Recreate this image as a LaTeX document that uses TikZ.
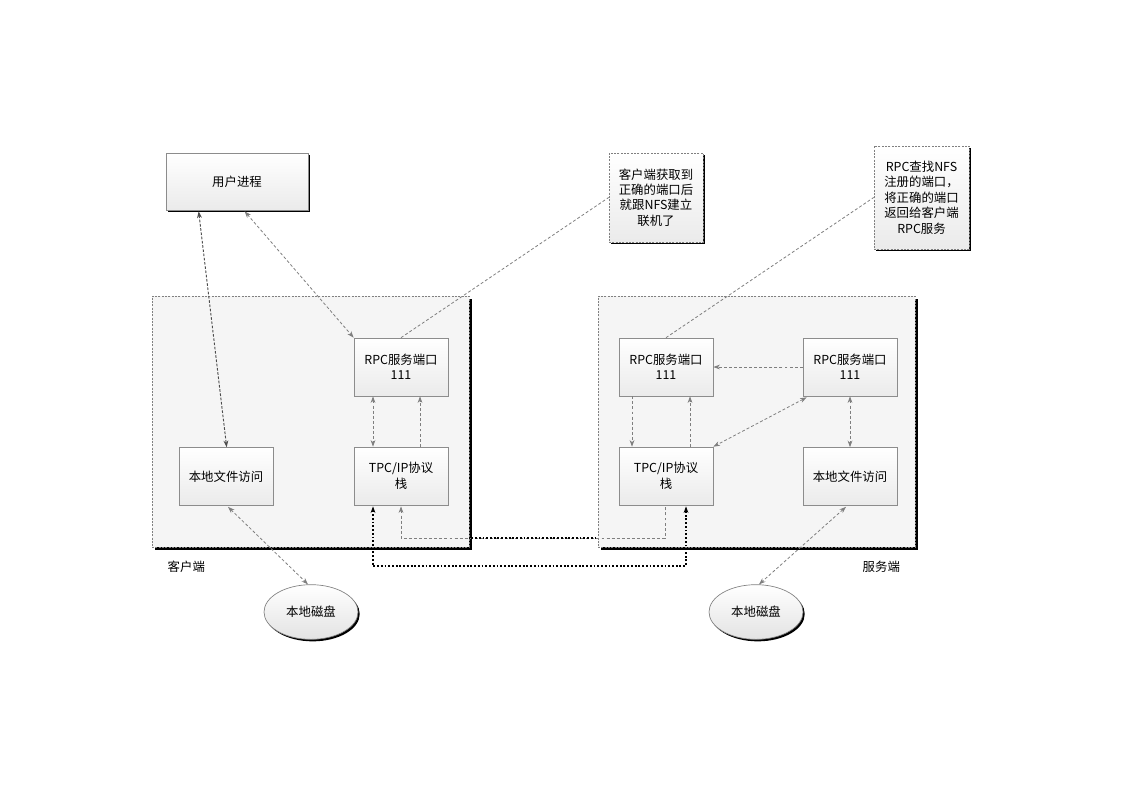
\documentclass[tikz,border=0pt]{standalone}
\usepackage{fontspec}
\setmainfont{Noto Sans CJK SC}
\usetikzlibrary{shapes.geometric,shadows,calc,arrows.meta}
\definecolor{lc}{HTML}{7F7F7F}
\definecolor{bc}{HTML}{8C8C8C}
\tikzset{
  txt/.style={font=\fontsize{9.3pt}{11.6pt}\selectfont, align=center, text=black},
  shad/.style={drop shadow={shadow xshift=1.6pt, shadow yshift=-1.6pt, opacity=1, fill=black}},
  box/.style={txt, draw=bc, line width=0.5pt, rectangle, top color=white, bottom color=gray!16,
     minimum width=70.5pt, minimum height=43.5pt, inner sep=1pt},
  bigbox/.style={box, shad, minimum width=106.5pt, minimum height=42.75pt},
  notebox/.style={box, shad, dash pattern=on 1.5pt off 1pt, draw=gray},
  cont/.style={draw=gray, line width=0.5pt, dash pattern=on 1.5pt off 1pt, fill=gray!8,
     drop shadow={shadow xshift=2pt, shadow yshift=-2pt, opacity=1, fill=black}, inner sep=0pt},
  disk/.style={txt, ellipse, draw=gray, line width=0.5pt, top color=white, bottom color=gray!22,
     minimum width=70.5pt, minimum height=41pt, inner sep=0pt,
     drop shadow={shadow xshift=1.3pt, shadow yshift=-1.5pt, opacity=1, fill=black}},
  conn/.style={draw=lc, line width=0.6pt, dash pattern=on 2.2pt off 1.6pt},
  dconn/.style={draw=black!70, line width=0.7pt, dash pattern=on 2pt off 1.2pt},
  bconn/.style={draw=black, line width=1.1pt, dash pattern=on 1.4pt off 1.4pt},
  >={Stealth[length=5pt,width=3.6pt,fill=lc]},
}
\begin{document}
\begin{tikzpicture}[x=0.75pt,y=-0.75pt]
\useasboundingbox (0,0) rectangle (1123,794);

% containers
\node[cont, minimum width=237.75pt, minimum height=188.25pt] (lcont) at (310.5,421.5) {};
\node[cont, minimum width=237.75pt, minimum height=188.25pt] (rcont) at (756.5,421.5) {};
\node[txt, anchor=west] (lcl) at (163,567) {客户端};
\node[txt, anchor=west] (lcs) at (858,567) {服务端};

% top
\node[bigbox] (user) at (237,181.5) {用户进程};
\node[notebox, minimum width=70.5pt, minimum height=66.75pt] (note1) at (656,197.5)
   {客户端获取到\\正确的端口后\\就跟NFS建立\\联机了};
\node[notebox, minimum width=71.25pt, minimum height=77.25pt] (note2) at (921.5,197.5)
   {RPC查找NFS\\注册的端口，\\将正确的端口\\返回给客户端\\RPC服务};

% left inner boxes
\node[box] (lrpc) at (401,367) {RPC服务端口\\111};
\node[box] (ltcp) at (401,476) {TPC/IP协议\\栈};
\node[box] (lfile) at (226,476.5) {本地文件访问};
% right inner boxes
\node[box] (rrpc1) at (666,367) {RPC服务端口\\111};
\node[box] (rrpc2) at (850,367) {RPC服务端口\\111};
\node[box] (rtcp) at (666,476) {TPC/IP协议\\栈};
\node[box] (rfile) at (850,476.5) {本地文件访问};

% disks
\node[disk] (ldisk) at (311,612) {本地磁盘};
\node[disk] (rdisk) at (756,612) {本地磁盘};

% helper coordinates
\coordinate (x373) at (373,0);
\coordinate (x420) at (420,0);
\coordinate (x632) at (632,0);
\coordinate (x690) at (690,0);
\coordinate (b1) at (373,566);
\coordinate (b2) at (686,566);
\coordinate (m1) at (401,538);
\coordinate (m2) at (665,538);

% connectors
\draw[dconn,<->] ($(user.south west)+(33,1)$) -- ($(lfile.north west)+(48,0)$);
\draw[conn,<->] ($(user.south west)+(79,1)$) -- (lrpc.north west);
\draw[conn] (lrpc.north) -- (note1.west);
\draw[conn] (rrpc1.north) -- (note2.west);
\draw[conn,<->] (lrpc.south -| x373) -- (ltcp.north -| x373);
\draw[conn,->] (ltcp.north -| x420) -- (lrpc.south -| x420);
\draw[conn,<->] ($(lfile.south)+(2,1)$) -- ($(ldisk.north)+(-3,0)$);
\draw[conn,->] (rrpc2.west) -- (rrpc1.east);
\draw[conn,->] (rrpc1.south -| x632) -- (rtcp.north -| x632);
\draw[conn,->] (rtcp.north -| x690) -- (rrpc1.south -| x690);
\draw[conn,<->] ($(rrpc2.south west)+(4,1)$) -- (rtcp.north east);
\draw[conn,<->] (rrpc2.south) -- (rfile.north);
\draw[conn,<->] ($(rfile.south)+(-4,1)$) -- ($(rdisk.north)+(3,0)$);
\draw[conn,<-] ($(ltcp.south)+(0,1)$) -- (m1) -- (m2) -- (rtcp.south -| m2);
\draw[bconn] ($(lcont.east |- m1)+(2,0)$) -- ($(rcont.west |- m1)$);
\draw[bconn,<->] ($(ltcp.south -| b1)+(0,1)$) -- (b1) -- (b2) -- ($(rtcp.south -| b2)+(0,1)$);
\end{tikzpicture}
\end{document}
